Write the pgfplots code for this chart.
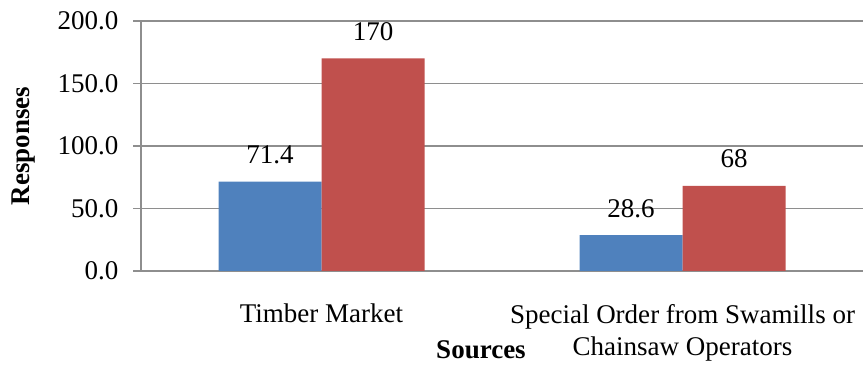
\documentclass[border=0pt]{standalone}
\usepackage{pgfplots}
\pgfplotsset{compat=1.18}
\usepackage{fontspec}
\setmainfont{Liberation Serif}
\definecolor{barblue}{HTML}{4F81BD}
\definecolor{barred}{HTML}{C0504D}
\definecolor{axgray}{HTML}{8E8E8E}
\begin{document}
\begin{tikzpicture}
\path[use as bounding box] (0,0) rectangle (863bp,365bp);
\begin{axis}[
  at={(141bp,94bp)}, anchor=south west,
  scale only axis, width=722bp, height=250bp,
  font=\fontsize{27bp}{32bp}\selectfont,
  /pgf/number format/assume math mode=true,
  xmin=-0.5, xmax=1.5, ymin=0, ymax=200,
  axis x line=bottom, axis y line=left,
  axis line style={axgray, line width=1.3bp, -},
  ytick={0,50,...,200},
  ymajorgrids, grid style={axgray, line width=1.3bp},
  tick align=outside, major tick length=8bp,
  tick style={axgray, line width=1.3bp},
  xtick={0,1}, xtick style={draw=none},
  xticklabels={Timber Market, {Special Order from Swamills or\\Chainsaw Operators}},
  xticklabel style={align=center, anchor=north, inner sep=0pt, yshift=-25bp},
  yticklabel style={xshift=-11bp, /pgf/number format/.cd, fixed, fixed zerofill, precision=1},
  every axis y label/.style={at={(axis description cs:-0.1620,0.5)}, rotate=90, anchor=center},
  every axis x label/.style={at={(axis description cs:0.4709,-0.316)}, anchor=center},
  ylabel={\bfseries Responses},
  xlabel={\bfseries Sources},
  ybar=0pt, bar width=103bp,
  nodes near coords,
  every node near coord/.append style={anchor=center, yshift=27bp, black, inner sep=0pt},
]
\addplot[fill=barblue, draw=none] coordinates {(0,71.4) (1,28.6)};
\addplot[fill=barred, draw=none] coordinates {(0,170) (1,68)};
\end{axis}
\end{tikzpicture}
\end{document}
